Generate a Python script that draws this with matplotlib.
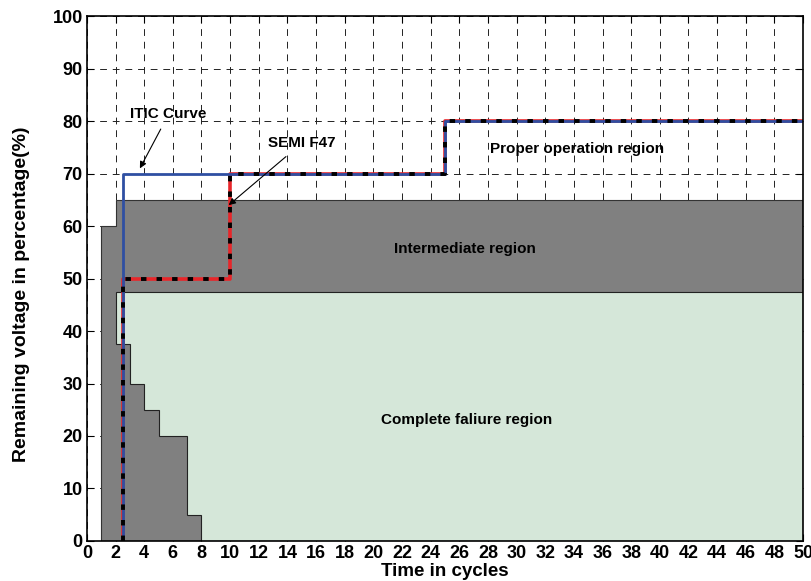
import matplotlib
matplotlib.use("Agg")
import matplotlib.pyplot as plt

# region boundaries (time in cycles, remaining voltage %)
gray_x = [1, 1, 2, 2, 50, 50]
gray_y = [0, 60, 60, 65, 65, 0]
green_x = [2, 2, 50, 50, 8, 8, 7, 7, 5, 5, 4, 4, 3, 3]
green_y = [37.5, 47.5, 47.5, 0, 0, 5, 5, 20, 20, 25, 25, 30, 30, 37.5]

# curves
itic_x = [2.5, 2.5, 25, 25, 50]
itic_y = [0, 70, 70, 80, 80]
semi_x = [2.5, 2.5, 10, 10, 25, 25, 50]
semi_y = [0, 50, 50, 70, 70, 80, 80]

xticks = list(range(0, 51, 2))
yticks = list(range(0, 101, 10))

plt.rcParams['font.family'] = ['Liberation Sans', 'DejaVu Sans']
plt.rcParams['font.weight'] = 'bold'

fig = plt.figure(figsize=(8.12, 5.81), dpi=100)
ax = fig.add_axes([0.107, 0.069, 0.882, 0.903])

ax.fill(gray_x, gray_y, facecolor='#808080', edgecolor='#333333', linewidth=0.8, zorder=1)
ax.fill(green_x, green_y, facecolor='#d5e7d9', edgecolor='#222222', linewidth=0.8, zorder=1.1)

ax.plot(semi_x, semi_y, color='#e8262a', linewidth=2.6, zorder=2)
ax.plot(itic_x, itic_y, color='#2f4fa2', linewidth=2.0, zorder=3)
ax.plot(semi_x, semi_y, color='black', linewidth=2.8, linestyle=(0, (1.4, 2.6)), zorder=4)

ax.set_xlim(0, 50)
ax.set_ylim(0, 100)
ax.set_xticks(xticks)
ax.set_yticks(yticks)
ax.set_xticklabels([str(v) for v in xticks], fontsize=13, fontweight='bold')
ax.set_yticklabels([str(v) for v in yticks], fontsize=13, fontweight='bold')
ax.tick_params(direction='in', top=True, right=True, length=5, width=0.8, pad=3)
ax.grid(True, color='#222222', linestyle=(0, (7, 6)), linewidth=0.7, zorder=0.5)
ax.set_axisbelow(True)
for s in ax.spines.values():
    s.set_linewidth(1.2)
    s.set_zorder(5)

ax.set_xlabel('Time in cycles', fontsize=13.5, fontweight='bold', va='center')
ax.xaxis.set_label_coords(0.5, -0.059)
ax.set_ylabel('Remaining voltage in percentage(%)', fontsize=14, fontweight='bold', va='center')
ax.yaxis.set_label_coords(-0.091, 0.47)

ax.text(34.2, 74.7, 'Proper operation region', ha='center', va='center', fontsize=11, fontweight='bold')
ax.text(26.4, 55.6, 'Intermediate region', ha='center', va='center', fontsize=11, fontweight='bold')
ax.text(26.5, 23.0, 'Complete faliure region', ha='center', va='center', fontsize=11, fontweight='bold')

ax.annotate('ITIC Curve', xy=(3.7, 71.0), xytext=(5.7, 81.3), ha='center', va='center',
            fontsize=11, fontweight='bold',
            arrowprops=dict(arrowstyle='-|>', color='black', lw=0.8, mutation_scale=10,
                            shrinkA=4, shrinkB=0), zorder=6)
ax.annotate('SEMI F47', xy=(9.9, 64.0), xytext=(15.0, 75.8), ha='center', va='center',
            fontsize=11, fontweight='bold',
            arrowprops=dict(arrowstyle='-|>', color='black', lw=0.8, mutation_scale=10,
                            shrinkA=4, shrinkB=0), zorder=6)

fig.savefig('out.png', dpi=100)
